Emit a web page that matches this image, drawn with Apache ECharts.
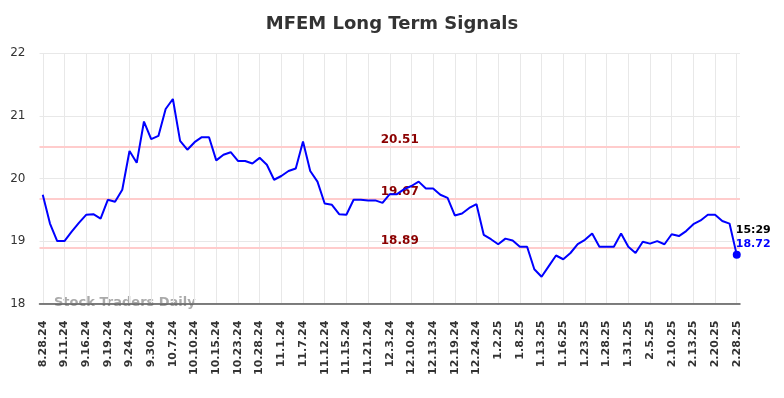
<!DOCTYPE html>
<html>
<head>
<meta charset="utf-8">
<script src="https://cdn.jsdelivr.net/npm/echarts@6/dist/echarts.min.js"></script>
<style>
html,body{margin:0;padding:0;background:#fff;}
#chart{width:784px;height:398px;}
</style>
</head>
<body>
<div id="chart"></div>
<script>
const titleText = "MFEM Long Term Signals";
const tickLabels = ["8.28.24","9.11.24","9.16.24","9.19.24","9.24.24","9.30.24","10.7.24","10.10.24","10.15.24","10.23.24","10.28.24","11.1.24","11.7.24","11.12.24","11.15.24","11.21.24","12.3.24","12.10.24","12.13.24","12.19.24","12.24.24","1.2.25","1.8.25","1.13.25","1.16.25","1.23.25","1.28.25","1.31.25","2.5.25","2.10.25","2.13.25","2.20.25","2.28.25"];
const pointsPerTick = 3;
const prices = [
19.74,19.28,19.00,19.00,19.15,19.29,19.42,19.43,19.36,19.66,
19.63,19.82,20.44,20.25,20.91,20.63,20.68,21.11,21.27,20.60,
20.46,20.58,20.66,20.66,20.29,20.38,20.42,20.28,20.28,20.24,
20.33,20.22,19.98,20.04,20.12,20.16,20.59,20.12,19.95,19.60,
19.58,19.43,19.42,19.66,19.66,19.65,19.65,19.61,19.75,19.75,
19.83,19.88,19.95,19.84,19.84,19.74,19.69,19.41,19.44,19.53,
19.59,19.10,19.03,18.95,19.04,19.01,18.91,18.91,18.55,18.43,
18.60,18.77,18.71,18.81,18.95,19.02,19.12,18.91,18.91,18.91,
19.12,18.91,18.81,18.99,18.96,19.00,18.95,19.11,19.08,19.16,
19.27,19.33,19.42,19.42,19.32,19.28,18.78
];
const signalLevels = [20.51, 19.67, 18.89];
const lastTime = "15:29";
const lastPriceLabel = "18.72";
const watermark = "Stock Traders Daily";

const FONT = "DejaVu Sans";
const lineData = prices.map((v, i) => [i, v]);
const lastIdx = prices.length - 1;
const tickValues = tickLabels.map((_, k) => k * pointsPerTick);

const chart = echarts.init(document.getElementById('chart'), null, {renderer: 'canvas'});
chart.setOption({
  animation: false,
  backgroundColor: '#ffffff',
  textStyle: {fontFamily: FONT},
  title: {
    text: titleText,
    left: 'center',
    top: 15,
    padding: 0,
    textStyle: {fontFamily: FONT, fontSize: 18, fontWeight: 'bold', color: '#333333'}
  },
  graphic: [{
    type: 'text',
    left: 54,
    top: 296,
    z: -10,
    silent: true,
    style: {text: watermark, fill: '#aaaaaa', font: 'bold 13px "DejaVu Sans"'}
  }],
  grid: {left: 39.5, right: 44, top: 53.3, bottom: 94.3, containLabel: false},
  xAxis: {
    type: 'value',
    min: -0.45,
    max: lastIdx + 0.45,
    axisLine: {show: true, onZero: false, lineStyle: {color: '#555555', width: 1.5}},
    axisTick: {show: false, customValues: tickValues},
    splitLine: {show: true, lineStyle: {color: '#e8e8e8', width: 1}},
    axisLabel: {
      customValues: tickValues,
      rotate: 90,
      margin: 17,
      fontFamily: FONT,
      fontSize: 11,
      fontWeight: 'bold',
      color: '#333333',
      formatter: v => tickLabels[Math.round(v / pointsPerTick)]
    }
  },
  yAxis: {
    type: 'value',
    min: 18,
    max: 22,
    interval: 1,
    axisLine: {show: false},
    axisTick: {show: false},
    splitLine: {show: true, lineStyle: {color: '#e8e8e8', width: 1}},
    axisLabel: {margin: 14, fontFamily: FONT, fontSize: 12, color: '#333333'}
  },
  series: [
    {
      type: 'line',
      data: lineData,
      showSymbol: false,
      symbol: 'none',
      lineStyle: {color: '#0000ff', width: 2},
      z: 3,
      markLine: {
        silent: true,
        symbol: 'none',
        z: 2,
        lineStyle: {color: '#ffcccc', width: 2, type: 'solid'},
        label: {
          show: true,
          position: 'insideMiddleTop',
          distance: 1,
          padding: [0, 0, 0, 20],
          fontFamily: FONT,
          fontSize: 12,
          fontWeight: 'bold',
          color: '#8b0000',
          formatter: p => p.value.toFixed(2)
        },
        data: signalLevels.map(v => ({yAxis: v}))
      }
    },
    {
      type: 'scatter',
      data: [[lastIdx, prices[lastIdx]]],
      symbol: 'circle',
      symbolSize: 8,
      itemStyle: {color: '#0000ff', opacity: 1},
      z: 4,
      label: {
        show: true,
        position: 'top',
        align: 'left',
        distance: 0,
        offset: [-1, 0],
        formatter: '{t|' + lastTime + '}\n{v|' + lastPriceLabel + '}',
        rich: {
          t: {fontFamily: FONT, fontSize: 11, fontWeight: 'bold', color: '#000000', lineHeight: 14},
          v: {fontFamily: FONT, fontSize: 11, fontWeight: 'bold', color: '#0000ff', lineHeight: 14}
        }
      }
    }
  ]
});
</script>
</body>
</html>
